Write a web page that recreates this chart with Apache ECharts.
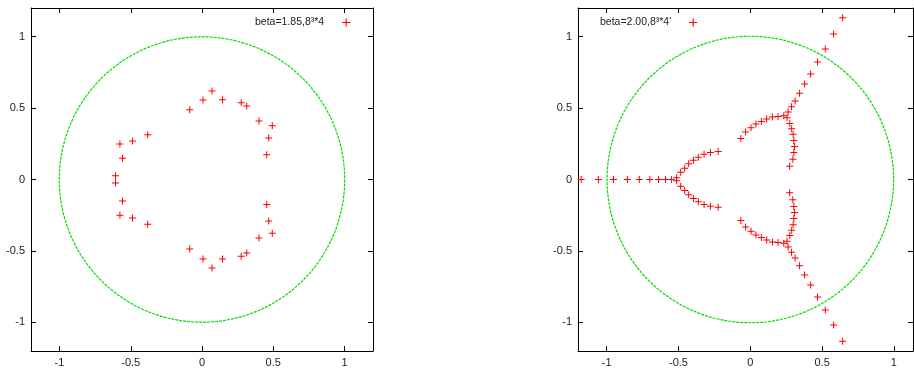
<!DOCTYPE html>
<html>
<head>
<meta charset="utf-8">
<script src="https://cdn.jsdelivr.net/npm/echarts@6/dist/echarts.min.js"></script>
<style>html,body{margin:0;padding:0;background:#fff}#c{width:914px;height:369px}</style>
</head>
<body>
<div id="c"></div>
<script>
// ---- data ----
const tickValues = [-1, -0.5, 0, 0.5, 1];
const leftName = 'beta=1.85,8\u00b3*4';
const rightName = "beta=2.00,8\u00b3*4'";
const circleCenter = [0, 0];
const circleRadius = 1;

const leftX = [0.07, 0.007, 0.144, -0.086, 0.275, 0.314, 0.40, 0.493, 0.468, 0.454, -0.381, -0.488, -0.576, -0.558, -0.607,
               0.07, 0.007, 0.144, -0.086, 0.275, 0.314, 0.40, 0.493, 0.468, 0.454, -0.381, -0.488, -0.576, -0.558, -0.607];
const leftY = [0.62, 0.556, 0.558, 0.488, 0.537, 0.514, 0.409, 0.376, 0.29, 0.173, 0.313, 0.269, 0.248, 0.149, 0.026,
               -0.62, -0.556, -0.556, -0.486, -0.537, -0.514, -0.41, -0.376, -0.29, -0.175, -0.313, -0.27, -0.25, -0.15, -0.024];

const rightX = [
  -1.178, -1.058, -0.953, -0.856, -0.773, -0.700, -0.639, -0.591, -0.550, -0.513, -0.513,
  -0.485, -0.457, -0.429, -0.396, -0.362, -0.322, -0.278, -0.224,
  -0.485, -0.457, -0.429, -0.396, -0.362, -0.322, -0.278, -0.224,
  -0.066, -0.033, 0.005, 0.039, 0.077, 0.114, 0.154, 0.193, 0.233, 0.256,
  0.263, 0.287, 0.312, 0.343, 0.378, 0.420, 0.468, 0.522, 0.580, 0.643,
  0.275, 0.288, 0.298, 0.303, 0.308, 0.303, 0.296, 0.274,
  -0.066, -0.033, 0.005, 0.039, 0.077, 0.114, 0.154, 0.193, 0.233, 0.256,
  0.263, 0.287, 0.312, 0.343, 0.378, 0.420, 0.468, 0.522, 0.580, 0.643,
  0.275, 0.288, 0.298, 0.303, 0.308, 0.303, 0.296, 0.274
];
const rightY = [
  0, 0, 0, 0, 0, 0, 0, 0, 0, 0.012, -0.008,
  0.051, 0.079, 0.110, 0.135, 0.156, 0.177, 0.189, 0.196,
  -0.047, -0.077, -0.107, -0.133, -0.156, -0.175, -0.187, -0.194,
  0.287, 0.332, 0.362, 0.388, 0.406, 0.423, 0.437, 0.441, 0.446, 0.432,
  0.472, 0.509, 0.550, 0.603, 0.668, 0.738, 0.822, 0.913, 1.018, 1.131,
  0.392, 0.355, 0.316, 0.273, 0.231, 0.189, 0.142, 0.093,
  -0.287, -0.332, -0.362, -0.388, -0.406, -0.423, -0.437, -0.441, -0.446, -0.432,
  -0.472, -0.509, -0.550, -0.603, -0.668, -0.738, -0.822, -0.913, -1.018, -1.131,
  -0.392, -0.355, -0.316, -0.273, -0.231, -0.189, -0.142, -0.093
];

// ---- chart ----
const FONT = 'Liberation Sans, Arial, sans-serif';
const plusPath = 'path://M3,0H4V3H7V4H4V7H3V4H0V3H3Z';
const RED = '#ff0000';

function zip(xs, ys) { return xs.map((x, i) => [x, ys[i]]); }

function xAx(grid, pos, labels, max) {
  return {
    type: 'value', gridIndex: grid, position: pos, min: -1.2, max: max,
    axisLine: { show: true, onZero: false, lineStyle: { color: '#000', width: 1 } },
    axisTick: { show: true, inside: true, length: 5, customValues: tickValues, lineStyle: { color: '#000' } },
    axisLabel: { show: labels, customValues: tickValues, margin: 6, color: '#222', fontFamily: FONT, fontSize: 11 },
    splitLine: { show: false }
  };
}
function yAx(grid, pos, labels) {
  return {
    type: 'value', gridIndex: grid, position: pos, min: -1.2, max: 1.2,
    axisLine: { show: true, onZero: false, lineStyle: { color: '#000', width: 1 } },
    axisTick: { show: true, inside: true, length: 5, customValues: tickValues, lineStyle: { color: '#000' } },
    axisLabel: { show: labels, customValues: tickValues, margin: 6, color: '#222', fontFamily: FONT, fontSize: 11 },
    splitLine: { show: false }
  };
}
function circleSeries(xi, yi) {
  return {
    type: 'custom', xAxisIndex: xi, yAxisIndex: yi, silent: true, clip: false,
    data: [[circleCenter[0], circleCenter[1], circleRadius]],
    renderItem: function (params, api) {
      const c = api.coord([api.value(0), api.value(1)]);
      const s = api.size([api.value(2), api.value(2)]);
      return {
        type: 'circle',
        shape: { cx: c[0], cy: c[1], r: (s[0] + s[1]) / 2 },
        style: { fill: null, stroke: '#00dd00', lineWidth: 1.2, lineDash: [3, 1] }
      };
    }
  };
}

const chart = echarts.init(document.getElementById('c'), null, { renderer: 'canvas' });
chart.setOption({
  animation: false,
  backgroundColor: '#fff',
  grid: [
    { left: 31, top: 8, width: 342, height: 343 },
    { left: 578, top: 8, width: 335, height: 343 }
  ],
  xAxis: [xAx(0, 'bottom', true, 1.2), xAx(0, 'top', false, 1.2), xAx(1, 'bottom', true, 1.133), xAx(1, 'top', false, 1.133)],
  yAxis: [yAx(0, 'left', true), yAx(0, 'right', false), yAx(1, 'left', true), yAx(1, 'right', false)],
  legend: [
    { data: [leftName], left: 250, top: 12, align: 'right', icon: plusPath, itemWidth: 8, itemHeight: 8,
      textStyle: { fontFamily: FONT, fontSize: 10.5, color: '#222', padding: [0, 13, 0, 0] }, selectedMode: false },
    { data: [rightName], left: 595, top: 12, align: 'right', icon: plusPath, itemWidth: 8, itemHeight: 8,
      textStyle: { fontFamily: FONT, fontSize: 10.5, color: '#222', padding: [0, 13, 0, 0] }, selectedMode: false }
  ],
  series: [
    circleSeries(0, 0),
    circleSeries(2, 2),
    { name: leftName, type: 'scatter', xAxisIndex: 0, yAxisIndex: 0, symbol: plusPath, symbolSize: 7,
      itemStyle: { color: RED, opacity: 1 }, data: zip(leftX, leftY) },
    { name: rightName, type: 'scatter', xAxisIndex: 2, yAxisIndex: 2, symbol: plusPath, symbolSize: 7,
      itemStyle: { color: RED, opacity: 1 }, data: zip(rightX, rightY) }
  ]
});
</script>
</body>
</html>
